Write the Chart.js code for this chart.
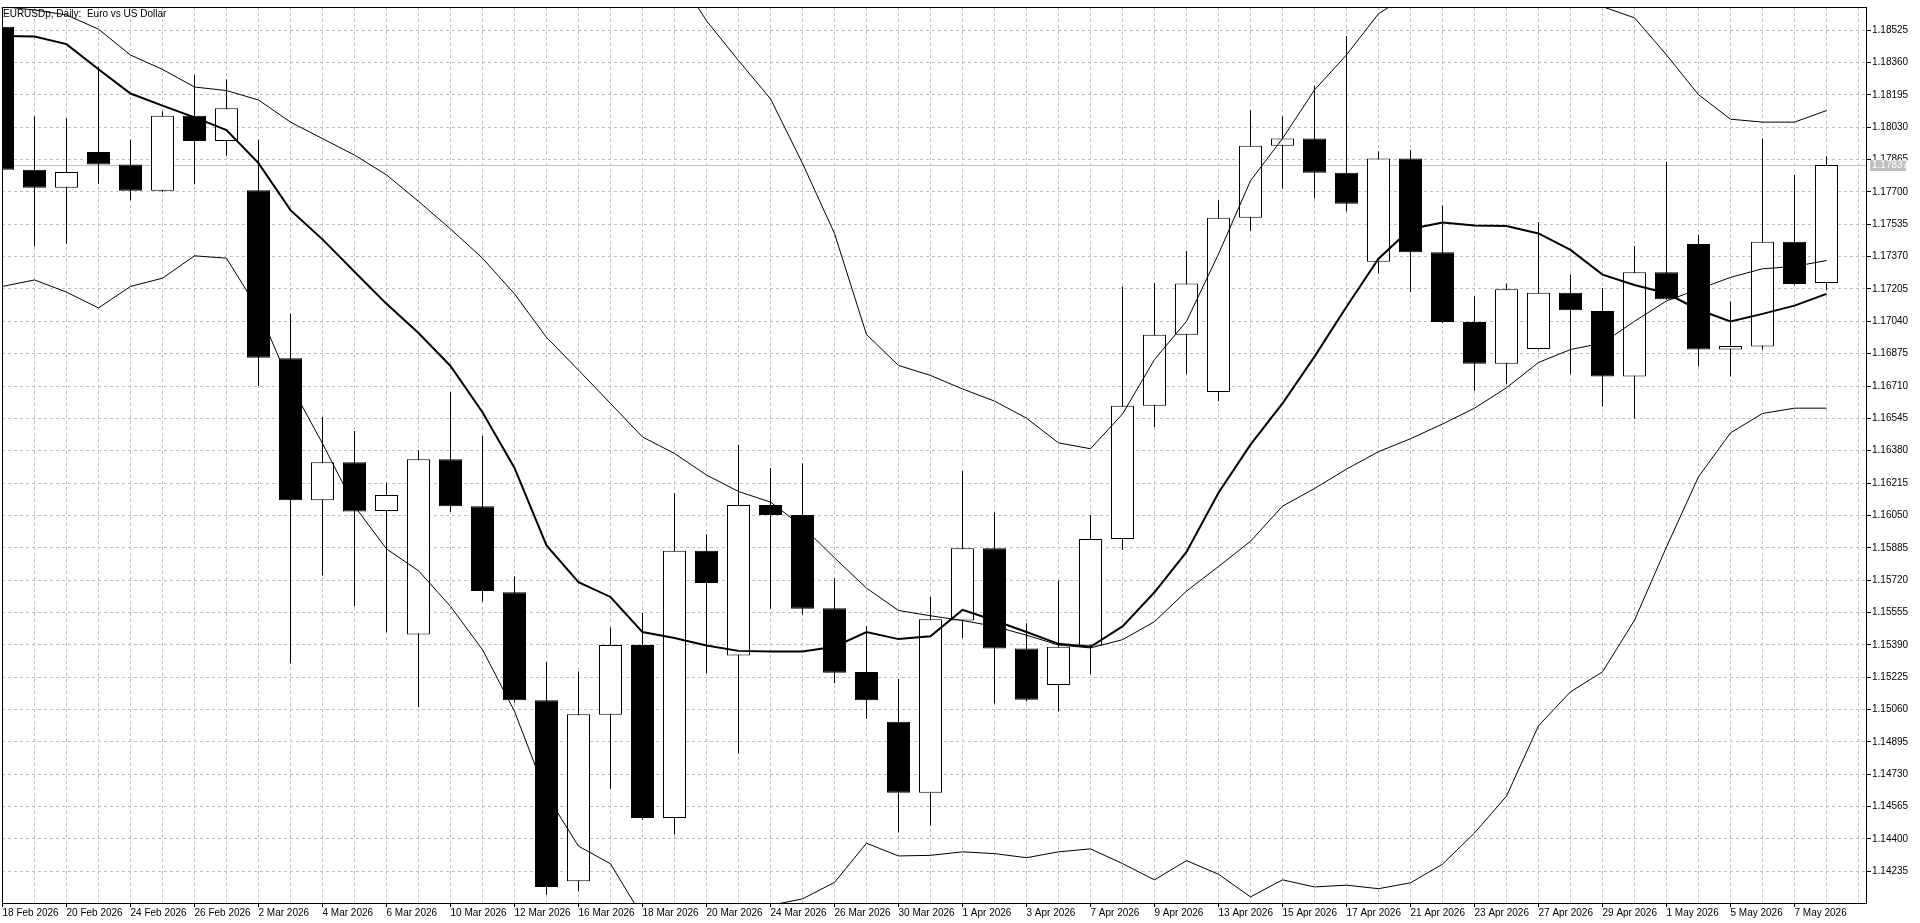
<!DOCTYPE html>
<html lang="en">
<head>
<meta charset="UTF-8">
<title>EURUSDp, Daily</title>
<script src="https://cdn.jsdelivr.net/npm/chart.js@4.4.1/dist/chart.umd.min.js"></script>
<style>
  html, body { margin: 0; padding: 0; background: #fff; overflow: hidden; }
  #wrap { width: 1920px; height: 923px; }
</style>
</head>
<body>
<div id="wrap"><canvas id="chart" width="1920" height="923"></canvas></div>
<script>
// daily bars, 18 Feb 2026 .. 8 May 2026
const dates = [
  '18 Feb 2026','19 Feb 2026','20 Feb 2026','23 Feb 2026','24 Feb 2026','25 Feb 2026','26 Feb 2026','27 Feb 2026',
  '2 Mar 2026','3 Mar 2026','4 Mar 2026','5 Mar 2026','6 Mar 2026','9 Mar 2026','10 Mar 2026','11 Mar 2026',
  '12 Mar 2026','13 Mar 2026','16 Mar 2026','17 Mar 2026','18 Mar 2026','19 Mar 2026','20 Mar 2026','23 Mar 2026',
  '24 Mar 2026','25 Mar 2026','26 Mar 2026','27 Mar 2026','30 Mar 2026','31 Mar 2026',
  '1 Apr 2026','2 Apr 2026','3 Apr 2026','6 Apr 2026','7 Apr 2026','8 Apr 2026','9 Apr 2026','10 Apr 2026',
  '13 Apr 2026','14 Apr 2026','15 Apr 2026','16 Apr 2026','17 Apr 2026','20 Apr 2026','21 Apr 2026','22 Apr 2026',
  '23 Apr 2026','24 Apr 2026','27 Apr 2026','28 Apr 2026','29 Apr 2026','30 Apr 2026',
  '1 May 2026','4 May 2026','5 May 2026','6 May 2026','7 May 2026','8 May 2026'
];

const opens = [
  1.18543,1.17813,1.17721,1.17903,1.17840,1.17706,1.18088,1.17960,
  1.17709,1.16851,1.16127,1.16321,1.16073,1.15442,1.16336,1.16097,
  1.15658,1.15107,1.14184,1.15033,1.15389,1.14507,1.15870,1.15335,
  1.16103,1.16052,1.15577,1.15251,1.14997,1.14635,
  1.15514,1.15882,1.15371,1.15185,1.15386,1.15930,1.16609,1.16971,
  1.16680,1.17568,1.17936,1.17972,1.17798,1.17344,1.17870,1.17392,
  1.17036,1.16824,1.16899,1.17186,1.17093,1.16758,
  1.17290,1.17434,1.16896,1.16911,1.17446,1.17236
];
const highs = [
  1.18560,1.18085,1.18076,1.18340,1.17966,1.18110,1.18295,1.18274,
  1.17966,1.17078,1.16552,1.16480,1.16217,1.16381,1.16680,1.16456,
  1.15738,1.15302,1.15254,1.15478,1.15553,1.16163,1.15954,1.16411,
  1.16292,1.16315,1.15729,1.15484,1.15215,1.15634,
  1.16277,1.16065,1.15500,1.15718,1.16052,1.17218,1.17236,1.17398,
  1.17658,1.18115,1.18085,1.18241,1.18495,1.17906,1.17915,1.17631,
  1.17168,1.17233,1.17547,1.17278,1.17210,1.17425,
  1.17852,1.17482,1.17141,1.17972,1.17787,1.17882
];
const lows = [
  1.17790,1.17422,1.17434,1.17742,1.17658,1.17700,1.17739,1.17885,
  1.16710,1.15296,1.15744,1.15586,1.15454,1.15072,1.16067,1.15610,
  1.15096,1.14115,1.14133,1.14656,1.14497,1.14423,1.15245,1.14835,
  1.15574,1.15544,1.15194,1.15012,1.14432,1.14468,
  1.15425,1.15090,1.15101,1.15051,1.15239,1.15873,1.16501,1.16770,
  1.16632,1.17502,1.17718,1.17667,1.17601,1.17284,1.17189,1.17030,
  1.16686,1.16719,1.16895,1.16770,1.16605,1.16543,
  1.17150,1.16809,1.16758,1.16896,1.17224,1.17200
];
const closes = [
  1.17813,1.17721,1.17801,1.17840,1.17706,1.18088,1.17960,1.18127,
  1.16854,1.16127,1.16321,1.16070,1.16154,1.16336,1.16097,1.15664,
  1.15107,1.14154,1.15036,1.15389,1.14507,1.15870,1.15705,1.16103,
  1.16052,1.15574,1.15248,1.15107,1.14635,1.15520,
  1.15882,1.15371,1.15110,1.15380,1.15930,1.16609,1.16971,1.17233,
  1.17568,1.17936,1.17972,1.17798,1.17640,1.17870,1.17392,1.17036,
  1.16824,1.17204,1.17186,1.17096,1.16758,1.17290,
  1.17153,1.16896,1.16914,1.17446,1.17230,1.17837
];

// moving average (thick line)
const maLine = [
  1.18495,1.18493,1.18454,1.18326,1.18202,1.18140,1.18080,1.18015,
  1.17847,1.17607,1.17458,1.17293,1.17129,1.16980,1.16812,1.16576,
  1.16292,1.15897,1.15709,1.15634,1.15455,1.15425,1.15386,1.15359,
  1.15356,1.15356,1.15380,1.15455,1.15419,1.15434,
  1.15568,1.15514,1.15455,1.15395,1.15380,1.15484,1.15658,1.15864,
  1.16166,1.16411,1.16621,1.16860,1.17114,1.17359,1.17511,1.17544,
  1.17529,1.17526,1.17488,1.17404,1.17278,1.17225,
  1.17183,1.17099,1.17039,1.17078,1.17120,1.17180
];
// bollinger bands
const bandMid = [
  1.18645,1.18628,1.18603,1.18530,1.18398,1.18325,1.18235,1.18217,
  1.18169,1.18056,1.17972,1.17888,1.17787,1.17652,1.17511,1.17362,
  1.17180,1.16958,1.16791,1.16621,1.16450,1.16366,1.16256,1.16172,
  1.16118,1.15993,1.15834,1.15679,1.15565,1.15538,
  1.15514,1.15484,1.15439,1.15389,1.15374,1.15416,1.15508,1.15664,
  1.15789,1.15918,1.16097,1.16187,1.16286,1.16375,1.16441,1.16516,
  1.16597,1.16701,1.16830,1.16896,1.16929,1.17040,
  1.17144,1.17204,1.17264,1.17308,1.17320,1.17350
];
const bandUpper = [
  1.2002,1.1995,1.1994,1.1994,1.1957,1.1939,1.1910,1.1907,
  1.1924,1.1940,1.1953,1.1968,1.1970,1.1954,1.1944,1.1936,
  1.1931,1.1929,1.1922,1.1897,1.1890,1.1883,1.18573,1.18370,
  1.18175,1.17846,1.17488,1.16973,1.16815,1.16764,
  1.16695,1.16633,1.16546,1.16420,1.16390,1.16567,1.16845,1.17040,
  1.17383,1.17757,1.17972,1.18220,1.18399,1.18609,1.18710,1.18760,
  1.18760,1.18780,1.18720,1.18680,1.18645,1.18588,
  1.18399,1.18196,1.18071,1.18056,1.18056,1.18115
];
const bandLower = [
  1.17218,1.17251,1.17189,1.17108,1.17218,1.17260,1.17374,1.17362,
  1.17099,1.16716,1.16417,1.16097,1.15879,1.15768,1.15586,1.15365,
  1.15051,1.14624,1.14363,1.14273,1.14003,1.13900,1.13939,1.13974,
  1.14061,1.14094,1.14178,1.14378,1.14313,1.14316,
  1.14334,1.14325,1.14304,1.14334,1.14349,1.14274,1.14191,1.14289,
  1.14220,1.14104,1.14191,1.14155,1.14164,1.14146,1.14176,1.14271,
  1.14430,1.14618,1.14977,1.15150,1.15252,1.15515,
  1.15889,1.16247,1.16471,1.16570,1.16597,1.16597
];

const priceTicks = [
  1.14235,1.14400,1.14565,1.14730,1.14895,1.15060,1.15225,1.15390,1.15555,
  1.15720,1.15885,1.16050,1.16215,1.16380,1.16545,1.16710,1.16875,1.17040,
  1.17205,1.17370,1.17535,1.17700,1.17865,1.18030,1.18195,1.18360,1.18525
];
const lastPrice = 1.17837;
const chartTitle = 'EURUSDp, Daily:  Euro vs US Dollar';

const FONT = { family: '"Liberation Sans", Arial, sans-serif', size: 10 };
const GRID = '#c0c0c0';

const idx = dates.map((d, i) => i);
const pts = arr => arr.map((v, i) => ({ x: i, y: v }));

// frame, bid line, price tag and caption
const mtDecor = {
  id: 'mtDecor',
  beforeDatasetsDraw(chart) {
    const { ctx, chartArea: a, scales: { y } } = chart;
    const py = Math.round(y.getPixelForValue(lastPrice)) + 0.5;
    ctx.save();
    ctx.strokeStyle = GRID;
    ctx.lineWidth = 1;
    ctx.beginPath();
    ctx.moveTo(a.left, py);
    ctx.lineTo(a.right, py);
    ctx.stroke();
    ctx.restore();
  },
  afterDraw(chart) {
    const { ctx, chartArea: a, scales: { y } } = chart;
    ctx.save();
    ctx.strokeStyle = '#000';
    ctx.lineWidth = 1;
    ctx.strokeRect(a.left + 0.5, a.top + 0.5, a.right - a.left - 1, a.bottom - a.top);
    // price tag
    const py = Math.round(y.getPixelForValue(lastPrice));
    ctx.fillStyle = GRID;
    ctx.fillRect(a.right + 3, py - 5, 36, 11);
    ctx.fillStyle = '#fff';
    ctx.font = `${FONT.size}px ${FONT.family}`;
    ctx.textBaseline = 'middle';
    ctx.textAlign = 'left';
    ctx.fillText(lastPrice.toFixed(5), a.right + 5, py + 0.5);
    // caption
    ctx.fillStyle = '#000';
    ctx.textBaseline = 'alphabetic';
    ctx.fillText(chartTitle, a.left + 1, a.top + 10);
    ctx.restore();
  }
};

new Chart(document.getElementById('chart'), {
  type: 'bar',
  data: {
    datasets: [
      {
        type: 'line', label: 'MA', data: pts(maLine), order: 0,
        borderColor: '#000', borderWidth: 2, pointRadius: 0, tension: 0
      },
      {
        type: 'line', label: 'BB upper', data: pts(bandUpper), order: 1,
        borderColor: '#000', borderWidth: 1, pointRadius: 0, tension: 0
      },
      {
        type: 'line', label: 'BB middle', data: pts(bandMid), order: 1,
        borderColor: '#000', borderWidth: 1, pointRadius: 0, tension: 0
      },
      {
        type: 'line', label: 'BB lower', data: pts(bandLower), order: 1,
        borderColor: '#000', borderWidth: 1, pointRadius: 0, tension: 0
      },
      {
        label: 'body', order: 2, grouped: false,
        data: idx.map(i => ({ x: i, y: [opens[i], closes[i]] })),
        backgroundColor: idx.map(i => closes[i] >= opens[i] ? '#fff' : '#000'),
        borderColor: '#000', borderWidth: 1, borderSkipped: false,
        barThickness: 23, inflateAmount: 0
      },
      {
        label: 'wick', order: 3, grouped: false,
        data: idx.map(i => ({ x: i, y: [lows[i], highs[i]] })),
        backgroundColor: '#000', borderWidth: 0,
        barThickness: 1, inflateAmount: 0
      }
    ]
  },
  options: {
    responsive: false,
    animation: false,
    devicePixelRatio: 1,
    layout: { padding: { left: 2, top: 2, right: 0, bottom: 0 } },
    plugins: { legend: { display: false }, tooltip: { enabled: false } },
    scales: {
      x: {
        type: 'linear',
        offset: false,
        min: -0.0156,
        max: 58.266,
        afterBuildTicks: s => { s.ticks = dates.concat(['']).map((d, i) => ({ value: i })); },
        afterFit: s => { s.height = 20; },
        ticks: {
          autoSkip: false, maxRotation: 0, minRotation: 0, align: 'start',
          padding: 0, color: '#000', font: FONT,
          callback: v => (v % 2 === 0 && v < dates.length) ? dates[v] : ''
        },
        grid: {
          offset: false,
          color: GRID, lineWidth: 1, tickLength: 4,
          tickColor: c => (c.index % 2 === 0 && c.index < dates.length) ? '#000' : 'rgba(0,0,0,0)',
          tickBorderDash: []
        },
        border: { display: false, dash: [3, 3] }
      },
      y: {
        position: 'right',
        min: 1.14073,
        max: 1.186432,
        afterBuildTicks: s => { s.ticks = priceTicks.map(v => ({ value: v })); },
        afterFit: s => { s.width = 53; },
        ticks: { padding: 1, color: '#000', font: FONT, callback: v => v.toFixed(5) },
        grid: { color: GRID, lineWidth: 1, tickLength: 4, tickColor: '#000', tickBorderDash: [] },
        border: { display: false, dash: [3, 3] }
      }
    }
  },
  plugins: [mtDecor]
});
</script>
</body>
</html>
